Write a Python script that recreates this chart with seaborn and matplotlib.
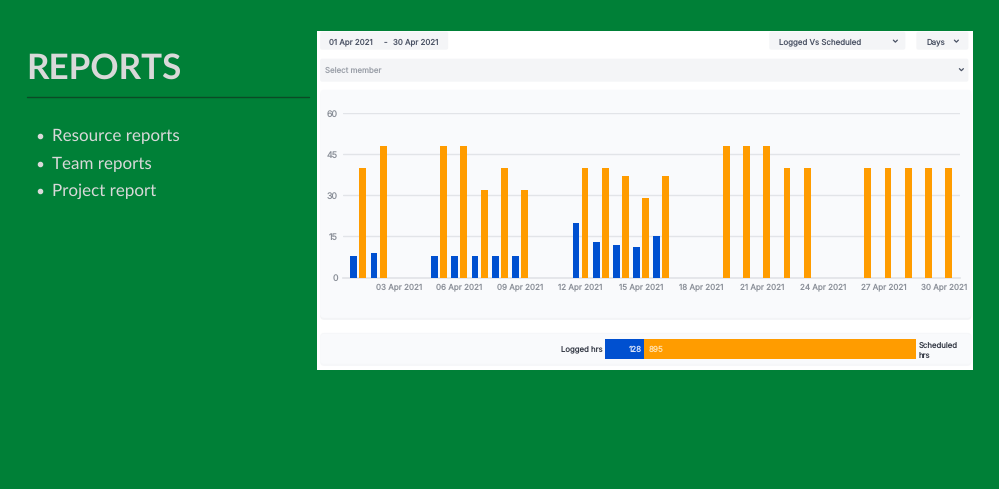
import matplotlib as mpl
mpl.use('Agg')
import matplotlib.pyplot as plt
from matplotlib.patches import FancyBboxPatch, Rectangle
import numpy as np
import pandas as pd
import seaborn as sns

W, H = 999, 489
nan = np.nan

# chart data (30 days of april)
days = ["%02d Apr 2021" % d for d in range(1, 31)]
logged = [8, 9, nan, nan, 8, 8, 8, 8, 8, nan, nan, 20, 13, 12, 11, 15, nan, nan,
          nan, nan, nan, nan, nan, nan, nan, nan, nan, nan, nan, nan]
scheduled = [40, 48, nan, nan, 48, 48, 32, 40, 32, nan, nan, 40, 40, 37, 29, 37, nan, nan,
             48, 48, 48, 40, 40, nan, nan, 40, 40, 40, 40, 40]
yticks = [0, 15, 30, 45, 60]
tick_days = list(range(2, 30, 3))
total_logged = 128
total_scheduled = 895
bullets = ["Resource reports", "Team reports", "Project report"]

GREEN = "#008037"
BLUE = "#0050D0"
ORANGE = "#FF9C00"
GREY = "#8A8F98"
DARK = "#4A5264"

sns.set_theme(style="white")
plt.rcParams['font.family'] = ['Inter', 'DejaVu Sans']
plt.rcParams['text.hinting'] = 'no_hinting'
plt.rcParams['text.hinting_factor'] = 1


def px_axes(fig, x0, y0, x1, y1):
    return fig.add_axes([x0 / W, 1 - y1 / H, (x1 - x0) / W, (y1 - y0) / H])


def card(ax, x0, y0, x1, y1, color, r=3, z=1):
    ax.add_patch(FancyBboxPatch((x0 + r, y0 + r), x1 - x0 - 2 * r, y1 - y0 - 2 * r,
                                boxstyle="round,pad=%d,rounding_size=%d" % (r, r),
                                fc=color, ec="none", zorder=z))


def chevron(ax, x, y):
    ax.plot([x - 2, x, x + 2], [y - 1, y + 1, y - 1], color=DARK, lw=0.9, zorder=5)


fig = plt.figure(figsize=((W + 0.4) / 100, (H + 0.4) / 100), dpi=100, facecolor=GREEN)

# page background, left text and the widget cards
bg = fig.add_axes([0, 0, 1, 1])
bg.set_xlim(0, W)
bg.set_ylim(H, 0)
bg.axis("off")

bg.text(26, 68.5, "REPORTS", family="Lato", weight="bold", fontsize=25.5, color="#D9D9D9",
        va="center", ha="left")
bg.plot([27, 309], [97, 97], color="#0B4A26", lw=1)
for y, name in zip([136, 163.5, 191], bullets):
    bg.plot([39.5], [y + 0.5], "o", ms=3, color="#D9D9D9")
    bg.text(52, y + 0.5, name, family="Lato", fontsize=12.5, color="#D9D9D9",
            va="center", ha="left")

bg.add_patch(Rectangle((317, 31), 656, 339, fc="white", ec="none", zorder=0))
card(bg, 320, 32, 448, 50, "#F4F5F7", 2)
card(bg, 769, 32, 905, 50, "#F4F5F7", 2)
card(bg, 916, 32, 968, 50, "#F4F5F7", 2)
card(bg, 320, 59, 968, 82, "#F4F5F7", 2)
card(bg, 320, 92, 971, 320, "#F3F4F6", 4)
card(bg, 320, 90, 971, 318, "#F9FAFC", 4, 2)
card(bg, 320, 333, 971, 366, "#F6F7F9", 4)
card(bg, 320, 334, 971, 364, "#F9FAFC", 4, 2)

for x, s, c in [(329, "01 Apr 2021", DARK), (383, "-", DARK), (393, "30 Apr 2021", DARK),
                (779, "Logged Vs Scheduled", DARK), (926, "Days", DARK),
                (325, "Select member", "#9A9FA8")]:
    bg.text(x, 42 if c == DARK else 70.5, s, fontsize=5.7, color=c, va="center", ha="left", zorder=5)
chevron(bg, 895, 41.5)
chevron(bg, 956, 41.5)
chevron(bg, 961, 70)

# main bar chart
ax = px_axes(fig, 342.7, 113.3, 960, 277.7)
ax.patch.set_alpha(0)
df = pd.DataFrame({"day": days * 2,
                   "hrs": logged + scheduled,
                   "kind": ["Logged"] * 30 + ["Scheduled"] * 30})
sns.barplot(data=df, x="day", y="hrs", hue="kind", palette=[BLUE, ORANGE],
            width=0.9, gap=0.24, linewidth=0, legend=False, ax=ax, zorder=3, saturation=1)
ax.set_xlim(-0.768, 29.81)
ax.set_ylim(0, 60)
ax.set_xlabel("")
ax.set_ylabel("")
ax.set_yticks(yticks)
ax.set_xticks(tick_days)
ax.set_xticklabels([days[i] for i in tick_days])
ax.tick_params(axis="x", length=0, labelsize=5.8, labelcolor=GREY, pad=3.5)
ax.tick_params(axis="y", length=0, labelsize=6.4, labelcolor=GREY, pad=3.5)
ax.grid(axis="y", color="#E2E4E8", lw=1, zorder=0)
ax.set_axisbelow(True)
sns.despine(ax=ax, left=True, right=True, top=True, bottom=False)
ax.spines["bottom"].set_color("#E2E4E8")

# totals strip
ax2 = px_axes(fig, 604.5, 339, 915.5, 359)
ax2.patch.set_alpha(0)
sns.barplot(x=[total_logged + total_scheduled], y=["hrs"], color=ORANGE, saturation=1, width=1,
            linewidth=0, ax=ax2)
sns.barplot(x=[total_logged], y=["hrs"], color=BLUE, saturation=1, width=1, linewidth=0, ax=ax2)
ax2.set_xlim(0, total_logged + total_scheduled)
ax2.axis("off")
ax2.text(total_logged - 5, 0, str(total_logged), color="#DCE6FA", fontsize=5.8, va="center", ha="right")
ax2.text(total_logged + 17, 0, str(total_scheduled), color="#FFE2B0", fontsize=5.8, va="center", ha="left")

bg.text(602, 349.5, "Logged hrs", fontsize=5.6, color="#333844", va="center", ha="right", zorder=5)
bg.text(918, 345, "Scheduled", fontsize=5.6, color="#333844", va="center", ha="left", zorder=5)
bg.text(918, 356.5, "hrs", fontsize=5.6, color="#333844", va="center", ha="left", zorder=5)

fig.savefig("out.png", dpi=100, facecolor=GREEN)
